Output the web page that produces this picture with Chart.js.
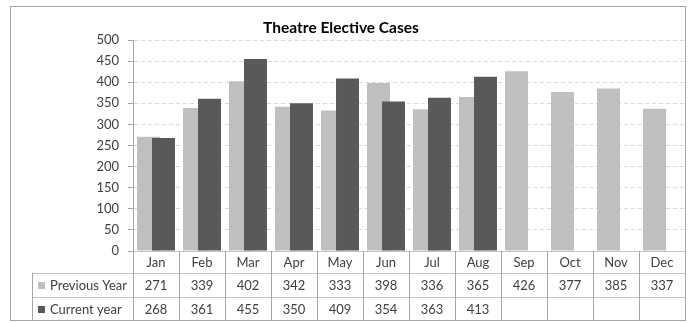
<!DOCTYPE html>
<html>
<head>
<meta charset="utf-8">
<script src="https://cdn.jsdelivr.net/npm/chart.js@4"></script>
<style>
    body { margin: 0; background: #ffffff; }
    #box { width: 692px; height: 322px; }
</style>
</head>
<body>
<div id="box"><canvas id="theatreChart" width="692" height="322"></canvas></div>
<script>
// Months along the bottom
var months = ["Jan", "Feb", "Mar", "Apr", "May", "Jun", "Jul", "Aug", "Sep", "Oct", "Nov", "Dec"];

// Cases for each year (current year only runs to August)
var previousYear = [271, 339, 402, 342, 333, 398, 336, 365, 426, 377, 385, 337];
var currentYear = [268, 361, 455, 350, 409, 354, 363, 413, null, null, null, null];

// Series names for the data table
var seriesNames = ["Previous Year", "Current year"];

// Y axis ticks
var yTicks = [0, 50, 100, 150, 200, 250, 300, 350, 400, 450, 500];

var chartTitle = "Theatre Elective Cases";

var barColors = ["#bfbfbf", "#595959"];
var lineGrey = "#a6a6a6";
var textColor = "#404040";
var fontName = "Lato, 'Open Sans', sans-serif";

// Draws the grey frame round the whole chart and the title
var framePlugin = {
    id: "frame",
    beforeDraw: function (chart) {
        var ctx = chart.ctx;
        ctx.save();
        ctx.fillStyle = "#ffffff";
        ctx.fillRect(0, 0, chart.width, chart.height);
        ctx.strokeStyle = lineGrey;
        ctx.lineWidth = 1;
        ctx.strokeRect(10.5, 6.5, chart.chartArea.right - 10, chart.height - 8);

        // title sits a little left of the middle, like the original
        ctx.font = "bold 15.5px " + fontName;
        ctx.fillStyle = "#000000";
        ctx.textAlign = "center";
        ctx.textBaseline = "middle";
        ctx.fillText(chartTitle, 341, 28);
        ctx.restore();
    }
};

// Draws the previous year bars first so the current year bars sit on top of them
var barOrderPlugin = {
    id: "barOrder",
    beforeDatasetsDraw: function (chart) {
        for (var i = 0; i < chart.data.datasets.length; i++) {
            chart.getDatasetMeta(i).controller.draw();
        }
        return false;
    }
};

// Draws the data table under the plot, lined up with the x scale
var tablePlugin = {
    id: "dataTable",
    afterDraw: function (chart) {
        var ctx = chart.ctx;
        var area = chart.chartArea;
        var x = chart.scales.x;
        var colWidth = (area.right - area.left) / months.length;
        var rowTop = area.bottom;
        var rows = [rowTop, rowTop + 22, rowTop + 46, chart.height - 1.5];
        var legendLeft = 32;

        ctx.save();
        ctx.lineWidth = 1;

        // horizontal lines
        ctx.strokeStyle = "#c4c4c4";
        ctx.beginPath();
        ctx.moveTo(area.left, Math.round(rows[0]) + 0.5);
        ctx.lineTo(area.right, Math.round(rows[0]) + 0.5);
        for (var r = 1; r < 3; r++) {
            ctx.moveTo(legendLeft, Math.round(rows[r]) + 0.5);
            ctx.lineTo(area.right, Math.round(rows[r]) + 0.5);
        }
        ctx.stroke();

        // vertical lines
        ctx.strokeStyle = lineGrey;
        ctx.beginPath();
        for (var c = 0; c <= months.length; c++) {
            var lx = Math.round(area.left + c * colWidth) + 0.5;
            ctx.moveTo(lx, rows[0]);
            ctx.lineTo(lx, rows[3]);
        }
        ctx.moveTo(legendLeft + 0.5, rows[1]);
        ctx.lineTo(legendLeft + 0.5, rows[3]);
        ctx.stroke();

        // text
        ctx.font = "13px " + fontName;
        ctx.fillStyle = textColor;
        ctx.textAlign = "center";
        ctx.textBaseline = "middle";
        var allValues = [previousYear, currentYear];
        for (var i = 0; i < months.length; i++) {
            var cx = x.getPixelForValue(i);
            ctx.fillText(months[i], cx, (rows[0] + rows[1]) / 2 + 1);
            for (var s = 0; s < allValues.length; s++) {
                if (allValues[s][i] != null) {
                    ctx.fillText(String(allValues[s][i]), cx, (rows[s + 1] + rows[s + 2]) / 2 + 1);
                }
            }
        }

        // legend keys and names
        ctx.textAlign = "left";
        for (var k = 0; k < seriesNames.length; k++) {
            var cy = (rows[k + 1] + rows[k + 2]) / 2;
            ctx.fillStyle = barColors[k];
            ctx.fillRect(38, Math.round(cy) - 3, 7, 7);
            ctx.fillStyle = textColor;
            ctx.fillText(seriesNames[k], 50, cy + 1);
        }
        ctx.restore();
    }
};

new Chart("theatreChart", {
    type: "bar",
    data: {
        labels: months,
        datasets: [{
            label: seriesNames[0],
            data: previousYear,
            backgroundColor: barColors[0],
            categoryPercentage: 0.652,
            barPercentage: 1.53
        }, {
            label: seriesNames[1],
            data: currentYear,
            backgroundColor: barColors[1],
            categoryPercentage: 0.652,
            barPercentage: 1.53
        }]
    },
    plugins: [framePlugin, barOrderPlugin, tablePlugin],
    options: {
        responsive: false,
        animation: false,
        layout: { padding: { left: 10, right: 7, top: 40, bottom: 71 } },
        plugins: {
            legend: { display: false },
            tooltip: { enabled: false },
            title: { display: false }
        },
        scales: {
            x: { display: false },
            y: {
                min: 0,
                max: 500,
                afterBuildTicks: function (scale) {
                    scale.ticks = yTicks.map(function (v) { return { value: v }; });
                },
                afterFit: function (scale) {
                    scale.width = 123;
                },
                ticks: {
                    color: textColor,
                    padding: 9,
                    font: { family: fontName, size: 13 }
                },
                grid: {
                    color: "#d9d9d9",
                    tickColor: lineGrey,
                    tickLength: 5
                },
                border: { color: lineGrey, dash: [4, 3] }
            }
        }
    }
});
</script>
</body>
</html>
